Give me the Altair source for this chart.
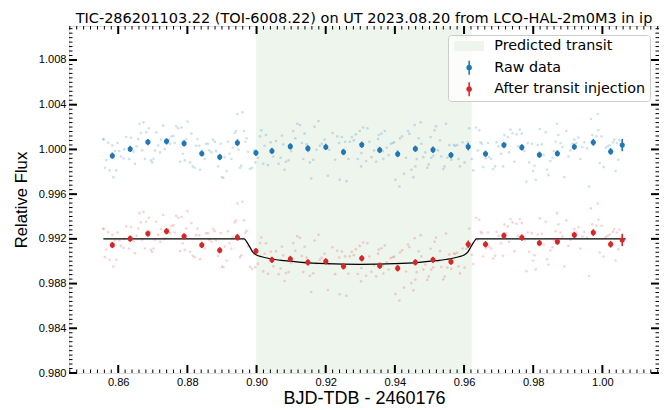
import altair as alt
import pandas as pd

FONT = "DejaVu Sans"
BLUE = "#1f77b4"
RED = "#d62728"
SHADE = "#edf5ec"

TITLE = "TIC-286201103.22 (TOI-6008.22) on UT 2023.08.20 from LCO-HAL-2m0M3 in ip"
X_TITLE = "BJD-TDB - 2460176"
Y_TITLE = "Relative Flux"
LEGEND_LABELS = ["Predicted transit", "Raw data", "After transit injection"]

# ---- unbinned photometry (time, raw flux, flux after injection) ----
raw_time = [
    0.85567, 0.85578, 0.85616, 0.85655, 0.85712, 0.85751, 0.85828, 0.85857,
    0.85905, 0.85943, 0.85982, 0.86030, 0.86078, 0.86155, 0.86174, 0.86232,
    0.86318, 0.86367, 0.86444, 0.86482, 0.86530, 0.86578, 0.86617, 0.86655,
    0.86694, 0.86732, 0.86771, 0.86809, 0.86886, 0.86915, 0.86944, 0.86982,
    0.87021, 0.87059, 0.87098, 0.87155, 0.87213, 0.87232, 0.87300, 0.87348,
    0.87463, 0.87502, 0.87540, 0.87598, 0.87636, 0.87675, 0.87733, 0.87790,
    0.87829, 0.87867, 0.87925, 0.87963, 0.88002, 0.88079, 0.88117, 0.88156,
    0.88213, 0.88252, 0.88290, 0.88348, 0.88367, 0.88464, 0.88502, 0.88541,
    0.88598, 0.88637, 0.88695, 0.88743, 0.88791, 0.88829, 0.88887, 0.88964,
    0.89002, 0.89041, 0.89079, 0.89137, 0.89176, 0.89214, 0.89272, 0.89310,
    0.89368, 0.89406, 0.89446, 0.89483, 0.89522, 0.89560, 0.89590, 0.89637,
    0.89676, 0.89714, 0.89753, 0.89810, 0.89868, 0.89926, 0.89964, 0.90041,
    0.90099, 0.90138, 0.90195, 0.90234, 0.90272, 0.90330, 0.90407, 0.90484,
    0.90561, 0.90638, 0.90696, 0.90734, 0.90772, 0.90811, 0.90849, 0.90927,
    0.91003, 0.91061, 0.91119, 0.91177, 0.91254, 0.91311, 0.91350, 0.91388,
    0.91446, 0.91503, 0.91542, 0.91581, 0.91638, 0.91677, 0.91734, 0.91792,
    0.91831, 0.91888, 0.91965, 0.92062, 0.92100, 0.92196, 0.92273, 0.92331,
    0.92389, 0.92408, 0.92466, 0.92504, 0.92562, 0.92600, 0.92658, 0.92697,
    0.92754, 0.92812, 0.92870, 0.92927, 0.92985, 0.93023, 0.93033, 0.93081,
    0.93168, 0.93206, 0.93264, 0.93322, 0.93399, 0.93457, 0.93514, 0.93533,
    0.93610, 0.93649, 0.93668, 0.93707, 0.93764, 0.93822, 0.93880, 0.93938,
    0.93976, 0.94015, 0.94072, 0.94130, 0.94149, 0.94207, 0.94265, 0.94322,
    0.94380, 0.94418, 0.94476, 0.94534, 0.94572, 0.94592, 0.94630, 0.94688,
    0.94746, 0.94765, 0.94823, 0.94880, 0.94938, 0.94976, 0.95034, 0.95053,
    0.95111, 0.95150, 0.95188, 0.95246, 0.95304, 0.95342, 0.95400, 0.95438,
    0.95477, 0.95515, 0.95573, 0.95631, 0.95708, 0.95746, 0.95804, 0.95842,
    0.95881, 0.95958, 0.96016, 0.96073, 0.96112, 0.96150, 0.96227, 0.96266,
    0.96343, 0.96400, 0.96439, 0.96477, 0.96516, 0.96554, 0.96631, 0.96689,
    0.96727, 0.96785, 0.96843, 0.96900, 0.96939, 0.96997, 0.97074, 0.97131,
    0.97170, 0.97208, 0.97266, 0.97304, 0.97343, 0.97401, 0.97458, 0.97516,
    0.97555, 0.97612, 0.97670, 0.97747, 0.97805, 0.97843, 0.97882, 0.97959,
    0.97997, 0.98036, 0.98074, 0.98132, 0.98190, 0.98247, 0.98305, 0.98363,
    0.98401, 0.98440, 0.98497, 0.98555, 0.98594, 0.98651, 0.98690, 0.98728,
    0.98786, 0.98844, 0.98901, 0.98959, 0.99017, 0.99075, 0.99132, 0.99190,
    0.99248, 0.99306, 0.99363, 0.99421, 0.99479, 0.99556, 0.99613, 0.99671,
    0.99709, 0.99767, 0.99825, 0.99864, 0.99883, 0.99921, 0.99979, 1.00037,
    1.00094, 1.00152, 1.00210, 1.00267, 1.00306, 1.00344, 1.00383, 1.00421,
    1.00460, 1.00498,
]
raw_flux = [
    1.00093, 1.00087, 0.99836, 0.99905, 1.00060, 0.99812, 1.00036, 0.99752,
    0.99985, 0.99812, 1.00057, 0.99985, 0.99937, 0.99919, 1.00000, 1.00111,
    0.99914, 1.00105, 0.99979, 0.99872, 1.00027, 1.00093, 1.00230, 1.00147,
    0.99991, 1.00242, 0.99914, 1.00153, 1.00189, 1.00063, 0.99902, 0.99884,
    0.99914, 0.99991, 1.00153, 1.00036, 0.99973, 1.00087, 1.00213, 1.00003,
    1.00087, 1.00051, 1.00117, 1.00120, 1.00057, 1.00207, 1.00189, 0.99890,
    1.00195, 0.99961, 0.99902, 1.00093, 1.00248, 0.99884, 1.00141, 0.99848,
    0.99836, 1.00033, 1.00093, 1.00033, 0.99818, 0.99955, 0.99914, 1.00051,
    1.00051, 0.99991, 0.99973, 1.00087, 1.00069, 0.99985, 0.99848, 1.00051,
    0.99752, 0.99746, 0.99931, 0.99806, 1.00069, 0.99961, 0.99914, 1.00015,
    1.00147, 1.00165, 1.00317, 0.99997, 0.99836, 0.99854, 1.00332, 1.00165,
    1.00069, 1.00099, 0.99979, 0.99824, 0.99836, 0.99991, 0.99884, 0.99925,
    1.00117, 1.00171, 0.99872, 1.00033, 1.00129, 0.99860, 1.00063, 0.99937,
    1.00075, 0.99872, 0.99925, 1.00123, 1.00045, 0.99818, 0.99890, 0.99902,
    0.99985, 1.00165, 1.00099, 1.00230, 1.00218, 1.00057, 0.99914, 1.00141,
    1.00045, 0.99985, 0.99884, 0.99740, 0.99908, 1.00201, 0.99997, 1.00254,
    1.00033, 1.00051, 1.00087, 0.99764, 0.99997, 1.00147, 0.99908, 1.00117,
    1.00057, 0.99728, 1.00111, 0.99985, 1.00069, 0.99716, 0.99914, 1.00069,
    1.00111, 1.00081, 1.00135, 0.99914, 1.00165, 0.99848, 0.99967, 1.00195,
    0.99896, 1.00189, 1.00069, 0.99931, 0.99991, 0.99890, 1.00093, 1.00129,
    1.00141, 0.99985, 0.99914, 1.00165, 1.00015, 0.99949, 1.00051, 1.00057,
    1.00063, 0.99728, 0.99985, 0.99668, 1.00099, 1.00117, 0.99782, 0.99925,
    1.00165, 1.00141, 0.99818, 0.99752, 1.00218, 0.99848, 0.99914, 1.00099,
    1.00242, 1.00051, 0.99931, 0.99973, 0.99836, 0.99866, 1.00111, 0.99925,
    0.99943, 1.00171, 1.00207, 0.99991, 1.00081, 0.99937, 0.99824, 0.99848,
    1.00230, 0.99925, 1.00039, 0.99908, 1.00039, 1.00033, 1.00039, 0.99914,
    0.99848, 1.00063, 0.99884, 1.00039, 1.00063, 1.00189, 0.99914, 0.99812,
    1.00195, 0.99991, 1.00171, 1.00063, 1.00051, 0.99842, 0.99919, 1.00057,
    0.99931, 0.99914, 0.99824, 0.99848, 1.00063, 1.00027, 0.99961, 0.99848,
    1.00129, 1.00051, 1.00111, 0.99973, 1.00177, 1.00147, 0.99890, 1.00135,
    1.00027, 1.00177, 1.00141, 0.99985, 0.99710, 1.00057, 0.99884, 1.00051,
    0.99806, 0.99854, 0.99728, 1.00039, 1.00183, 1.00045, 0.99949, 1.00153,
    0.99818, 0.99770, 0.99896, 0.99925, 0.99985, 1.00069, 1.00230, 1.00129,
    1.00057, 1.00021, 0.99752, 1.00165, 0.99937, 0.99991, 1.00051, 1.00087,
    1.00057, 1.00105, 0.99914, 1.00021, 1.00063, 1.00009, 0.99668, 1.00272,
    1.00129, 1.00051, 1.00117, 1.00317, 1.00171, 0.99878, 1.00117, 0.99842,
    1.00015, 1.00027, 1.00039, 0.99967, 1.00063, 1.00087, 0.99806, 1.00057,
    0.99908, 1.00081,
]
inj_flux = [
    0.99293, 0.99287, 0.99036, 0.99105, 0.99260, 0.99012, 0.99236, 0.98952,
    0.99185, 0.99012, 0.99257, 0.99185, 0.99137, 0.99119, 0.99200, 0.99311,
    0.99114, 0.99305, 0.99179, 0.99072, 0.99227, 0.99293, 0.99430, 0.99347,
    0.99191, 0.99442, 0.99114, 0.99353, 0.99389, 0.99263, 0.99102, 0.99084,
    0.99114, 0.99191, 0.99353, 0.99236, 0.99173, 0.99287, 0.99413, 0.99203,
    0.99287, 0.99251, 0.99317, 0.99320, 0.99257, 0.99407, 0.99389, 0.99090,
    0.99395, 0.99161, 0.99102, 0.99293, 0.99448, 0.99084, 0.99341, 0.99048,
    0.99036, 0.99233, 0.99293, 0.99233, 0.99018, 0.99155, 0.99114, 0.99251,
    0.99251, 0.99191, 0.99173, 0.99287, 0.99269, 0.99185, 0.99048, 0.99251,
    0.98952, 0.98946, 0.99131, 0.99006, 0.99269, 0.99161, 0.99114, 0.99215,
    0.99347, 0.99365, 0.99517, 0.99197, 0.99036, 0.99054, 0.99532, 0.99365,
    0.99255, 0.99271, 0.99132, 0.98949, 0.98931, 0.99063, 0.98947, 0.98976,
    0.99162, 0.99212, 0.98909, 0.99067, 0.99160, 0.98887, 0.99085, 0.98955,
    0.99090, 0.98884, 0.98935, 0.99131, 0.99052, 0.98823, 0.98894, 0.98903,
    0.98984, 0.99162, 0.99094, 0.99224, 0.99209, 0.99047, 0.98903, 0.99129,
    0.99032, 0.98972, 0.98870, 0.98725, 0.98892, 0.99185, 0.98980, 0.99236,
    0.99014, 0.99031, 0.99066, 0.98742, 0.98975, 0.99124, 0.98884, 0.99093,
    0.99033, 0.98704, 0.99086, 0.98960, 0.99043, 0.98690, 0.98888, 0.99043,
    0.99084, 0.99054, 0.99107, 0.98886, 0.99137, 0.98820, 0.98939, 0.99167,
    0.98869, 0.99162, 0.99042, 0.98905, 0.98965, 0.98864, 0.99068, 0.99104,
    0.99116, 0.98960, 0.98890, 0.99141, 0.98991, 0.98926, 0.99028, 0.99035,
    0.99041, 0.98706, 0.98964, 0.98648, 0.99079, 0.99098, 0.98764, 0.98908,
    0.99149, 0.99126, 0.98804, 0.98739, 0.99205, 0.98835, 0.98902, 0.99088,
    0.99233, 0.99043, 0.98925, 0.98968, 0.98833, 0.98864, 0.99111, 0.98925,
    0.98945, 0.99174, 0.99211, 0.98998, 0.99090, 0.98948, 0.98837, 0.98863,
    0.99247, 0.98943, 0.99060, 0.98932, 0.99069, 0.99066, 0.99076, 0.98954,
    0.98891, 0.99114, 0.98943, 0.99111, 0.99147, 0.99293, 0.99057, 0.98975,
    0.99389, 0.99191, 0.99371, 0.99263, 0.99251, 0.99042, 0.99119, 0.99257,
    0.99131, 0.99114, 0.99024, 0.99048, 0.99263, 0.99227, 0.99161, 0.99048,
    0.99329, 0.99251, 0.99311, 0.99173, 0.99377, 0.99347, 0.99090, 0.99335,
    0.99227, 0.99377, 0.99341, 0.99185, 0.98910, 0.99257, 0.99084, 0.99251,
    0.99006, 0.99054, 0.98928, 0.99239, 0.99383, 0.99245, 0.99149, 0.99353,
    0.99018, 0.98970, 0.99096, 0.99125, 0.99185, 0.99269, 0.99430, 0.99329,
    0.99257, 0.99221, 0.98952, 0.99365, 0.99137, 0.99191, 0.99251, 0.99287,
    0.99257, 0.99305, 0.99114, 0.99221, 0.99263, 0.99209, 0.98868, 0.99472,
    0.99329, 0.99251, 0.99317, 0.99517, 0.99371, 0.99078, 0.99317, 0.99042,
    0.99215, 0.99227, 0.99239, 0.99167, 0.99263, 0.99287, 0.99006, 0.99257,
    0.99108, 0.99281,
]

# ---- binned points ----
bin_time = [
    0.85830, 0.86346, 0.86857, 0.87397, 0.87905, 0.88416, 0.88935, 0.89446,
    0.89983, 0.90445, 0.90976, 0.91484, 0.92003, 0.92514, 0.93042, 0.93561,
    0.94081, 0.94592, 0.95102, 0.95622, 0.96121, 0.96621, 0.97152, 0.97671,
    0.98179, 0.98699, 0.99189, 0.99737, 1.00239, 1.00574,
]
bin_raw = [
    0.99944, 1.00004, 1.00066, 1.00072, 1.00054, 0.99964, 0.99932, 1.00060,
    0.99970, 0.99986, 1.00027, 1.00009, 1.00022, 0.99977, 1.00042, 0.99995,
    0.99959, 1.00006, 0.99997, 0.99950, 1.00024, 0.99961, 1.00039, 1.00018,
    0.99952, 0.99964, 1.00024, 1.00063, 0.99982, 1.00039,
]
bin_inj = [
    0.99145, 0.99202, 0.99247, 0.99268, 0.99223, 0.99145, 0.99098, 0.99214,
    0.99091, 0.99013, 0.99020, 0.98990, 0.98999, 0.98954, 0.99026, 0.98960,
    0.98936, 0.98990, 0.99013, 0.98996, 0.99152, 0.99152, 0.99229, 0.99211,
    0.99163, 0.99175, 0.99235, 0.99256, 0.99152, 0.99190,
]
bin_err = [
    0.00028, 0.00028, 0.00028, 0.00028, 0.00028, 0.00028, 0.00028, 0.00030,
    0.00028, 0.00028, 0.00028, 0.00028, 0.00028, 0.00028, 0.00028, 0.00028,
    0.00028, 0.00028, 0.00028, 0.00028, 0.00033, 0.00028, 0.00028, 0.00028,
    0.00028, 0.00028, 0.00028, 0.00030, 0.00030, 0.00055,
]

# ---- transit model (as drawn) ----
model_time = [0.8557, 0.8964, 0.8972, 0.8980, 0.8990, 0.9000, 0.9015, 0.9040,
              0.9080, 0.9130, 0.9200, 0.9299, 0.9400, 0.9470, 0.9520, 0.9560,
              0.9585, 0.9600, 0.9610, 0.9620, 0.9628, 0.9636, 1.0067]
model_flux = [0.99200, 0.99200, 0.99170, 0.99130, 0.99078, 0.99055, 0.99040, 0.99022,
              0.99005, 0.98990, 0.98978, 0.98972, 0.98978, 0.98990, 0.99005, 0.99022,
              0.99040, 0.99055, 0.99078, 0.99130, 0.99170, 0.99200, 0.99200]

transit_start = [0.8999]
transit_end = [0.9622]

# ---- axes ----
x_domain = [0.84577, 1.01637]
y_domain = [0.980, 1.01104]
x_major = [0.86, 0.88, 0.90, 0.92, 0.94, 0.96, 0.98, 1.00]
y_major = [0.980, 0.984, 0.988, 0.992, 0.996, 1.000, 1.004, 1.008]
x_minor = [round(0.846 + 0.002 * i, 3) for i in range(86)]
x_minor = [v for v in x_minor if all(abs(v - m) > 1e-6 for m in x_major)]
y_minor = [round(0.980 + 0.0004 * i, 4) for i in range(78)]
y_minor = [v for v in y_minor if all(abs(v - m) > 1e-7 for m in y_major)]

assert len(raw_time) == len(raw_flux) == len(inj_flux)
assert len(bin_time) == len(bin_raw) == len(bin_inj) == len(bin_err)

W, H = 590, 347

xs = alt.Scale(domain=x_domain, nice=False, zero=False)
ys = alt.Scale(domain=y_domain, nice=False, zero=False)

x_axis = alt.Axis(values=x_major, format=".2f", title=X_TITLE, ticks=False, tickSize=0,
                  domain=False, grid=False, labelPadding=3, labelFontSize=11.1,
                  titleFontSize=18, titleFontWeight="normal",
                  titleBaseline="alphabetic", titleY=30)
y_axis = alt.Axis(values=y_major, format=".3f", title=Y_TITLE, ticks=False, tickSize=0,
                  domain=False, grid=False, labelPadding=3, labelFontSize=11.1,
                  titleFontSize=16.7, titleFontWeight="normal",
                  titleBaseline="alphabetic", titleX=-43)

df_raw = pd.DataFrame({"x": raw_time, "y": raw_flux})
df_inj = pd.DataFrame({"x": raw_time, "y": inj_flux})
df_bin_raw = pd.DataFrame({"x": bin_time, "y": bin_raw, "e": bin_err, "series": LEGEND_LABELS[1]})
df_bin_inj = pd.DataFrame({"x": bin_time, "y": bin_inj, "e": bin_err, "series": LEGEND_LABELS[2]})
df_bins = pd.concat([df_bin_raw, df_bin_inj], ignore_index=True)
df_model = pd.DataFrame({"x": model_time, "y": model_flux})
df_shade = pd.DataFrame({"x": transit_start, "x2": transit_end})

RECT_PATH = "M-2.14,-0.71H2.14V0.71H-2.14Z"
EB_PATH = ("M-0.11,-1H0.11V-0.36H-0.11Z M-0.11,0.36H0.11V1H-0.11Z "
           "M-0.4,0A0.4,0.4,0,1,1,0.4,0A0.4,0.4,0,1,1,-0.4,0Z")
shape_expr = "datum.value === '%s' ? '%s' : '%s'" % (LEGEND_LABELS[0], RECT_PATH, EB_PATH)

legend = alt.Legend(title=None, orient="none", legendX=379, legendY=9,
                    symbolType=alt.ExprRef(expr=shape_expr), symbolSize=196,
                    symbolStrokeWidth=0, padding=4, rowPadding=6.5, labelOffset=18,
                    symbolOffset=10, labelFontSize=14.3, labelFont=FONT, labelColor="black",
                    labelLimit=300, fillColor="rgba(255,255,255,0.8)",
                    strokeColor="#cccccc", cornerRadius=3)

color_scale = alt.Scale(domain=LEGEND_LABELS, range=[SHADE, BLUE, RED])

shade = alt.Chart(df_shade).mark_rect(color=SHADE).encode(
    x=alt.X("x:Q", scale=xs, axis=x_axis), x2="x2:Q",
    y=alt.value(0), y2=alt.value(H))

faint_raw = alt.Chart(df_raw).mark_circle(color=BLUE, opacity=0.22, size=7).encode(
    x=alt.X("x:Q", scale=xs), y=alt.Y("y:Q", scale=ys, axis=y_axis))
faint_inj = alt.Chart(df_inj).mark_circle(color=RED, opacity=0.2, size=7).encode(
    x=alt.X("x:Q", scale=xs), y=alt.Y("y:Q", scale=ys))

model = alt.Chart(df_model).mark_line(color="black", strokeWidth=1.2, interpolate="monotone").encode(
    x=alt.X("x:Q", scale=xs), y=alt.Y("y:Q", scale=ys))

def errbars(df, color):
    return alt.Chart(df).transform_calculate(
        lo="datum.y - datum.e", hi="datum.y + datum.e"
    ).mark_rule(color=color, strokeWidth=1.6).encode(
        x=alt.X("x:Q", scale=xs), y=alt.Y("lo:Q", scale=ys), y2="hi:Q")

bins = alt.Chart(df_bins).mark_circle(size=26, opacity=1).encode(
    x=alt.X("x:Q", scale=xs), y=alt.Y("y:Q", scale=ys),
    color=alt.Color("series:N", scale=color_scale, legend=legend))

def xticks(vals, length, width):
    d = pd.DataFrame({"x": vals})
    bot = alt.Chart(d).mark_rule(color="black", strokeWidth=width).encode(
        x=alt.X("x:Q", scale=xs), y=alt.value(H), y2=alt.value(H - length))
    top = alt.Chart(d).mark_rule(color="black", strokeWidth=width).encode(
        x=alt.X("x:Q", scale=xs), y=alt.value(0), y2=alt.value(length))
    return [bot, top]

def yticks(vals, length, width):
    d = pd.DataFrame({"y": vals})
    left = alt.Chart(d).mark_rule(color="black", strokeWidth=width).encode(
        y=alt.Y("y:Q", scale=ys), x=alt.value(0), x2=alt.value(length))
    right = alt.Chart(d).mark_rule(color="black", strokeWidth=width).encode(
        y=alt.Y("y:Q", scale=ys), x=alt.value(W), x2=alt.value(W - length))
    return [left, right]

layers = [shade, faint_raw, faint_inj, model,
          errbars(df_bin_raw, BLUE), errbars(df_bin_inj, RED), bins]
layers += xticks(x_minor, 3.5, 1) + xticks(x_major, 8, 2)
layers += yticks(y_minor, 3.5, 1) + yticks(y_major, 8, 2)

chart = alt.layer(*layers).properties(
    width=W, height=H,
    autosize=alt.AutoSizeParams(type="none"),
    padding={"left": 61, "top": 18, "right": 0, "bottom": 36},
    title=alt.TitleParams(text=TITLE, fontSize=14.5, font=FONT, fontWeight="normal",
                          anchor="middle", offset=4, dy=5, color="black"),
).configure_view(
    stroke="black", strokeWidth=1.6
).configure_axis(
    labelFont=FONT, titleFont=FONT, labelColor="black", titleColor="black",
    titleFontWeight="normal"
).configure(background="white")

chart.save("out.html", embed_options={"renderer": "svg", "actions": False})
